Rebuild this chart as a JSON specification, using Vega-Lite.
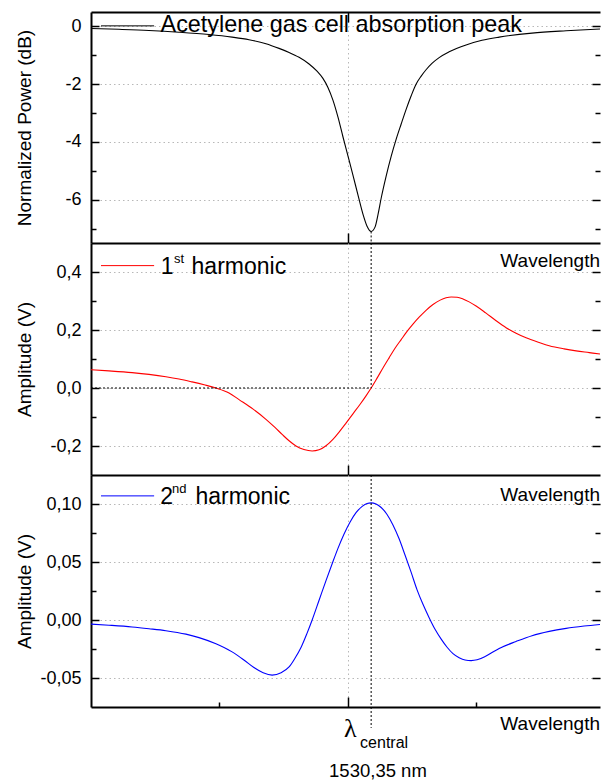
{
  "$schema": "https://vega.github.io/schema/vega-lite/v6.json",
  "padding": {"left": 14, "top": 11, "right": 0, "bottom": 0},
  "config": {
    "font": "Liberation Sans",
    "view": {"stroke": null},
    "axis": {
      "domainColor": "black", "domainWidth": 2,
      "tickColor": "black", "tickWidth": 1.5,
      "labelColor": "black", "labelFont": "Liberation Sans", "labelFontSize": 18,
      "titleFont": "Liberation Sans", "titleFontSize": 19, "titleFontWeight": "normal", "titleColor": "black",
      "gridColor": "#b8b8b8", "gridDash": [1.5, 3], "gridWidth": 1
    }
  },
  "datasets": {
    "absorption": [
      {"x": 0, "dB": -0.07}, {"x": 0.109, "dB": -0.1}, {"x": 0.226, "dB": -0.14}, {"x": 0.343, "dB": -0.2},
      {"x": 0.46, "dB": -0.28}, {"x": 0.55, "dB": -0.37}, {"x": 0.616, "dB": -0.46}, {"x": 0.682, "dB": -0.6},
      {"x": 0.733, "dB": -0.76}, {"x": 0.772, "dB": -0.9}, {"x": 0.811, "dB": -1.07}, {"x": 0.85, "dB": -1.3},
      {"x": 0.881, "dB": -1.55}, {"x": 0.904, "dB": -1.8}, {"x": 0.924, "dB": -2.12}, {"x": 0.943, "dB": -2.55},
      {"x": 0.963, "dB": -3.15}, {"x": 0.982, "dB": -3.82}, {"x": 1.002, "dB": -4.5}, {"x": 1.021, "dB": -5.15},
      {"x": 1.041, "dB": -5.85}, {"x": 1.06, "dB": -6.5}, {"x": 1.076, "dB": -6.92}, {"x": 1.092, "dB": -7.1},
      {"x": 1.107, "dB": -6.95}, {"x": 1.119, "dB": -6.5}, {"x": 1.131, "dB": -5.95}, {"x": 1.15, "dB": -5.2},
      {"x": 1.17, "dB": -4.5}, {"x": 1.189, "dB": -3.92}, {"x": 1.209, "dB": -3.38}, {"x": 1.228, "dB": -2.88},
      {"x": 1.248, "dB": -2.4}, {"x": 1.267, "dB": -2.0}, {"x": 1.287, "dB": -1.72}, {"x": 1.306, "dB": -1.5},
      {"x": 1.329, "dB": -1.28}, {"x": 1.357, "dB": -1.08}, {"x": 1.396, "dB": -0.88}, {"x": 1.462, "dB": -0.64},
      {"x": 1.524, "dB": -0.48}, {"x": 1.591, "dB": -0.37}, {"x": 1.719, "dB": -0.23}, {"x": 1.852, "dB": -0.15},
      {"x": 1.984, "dB": -0.09}
    ],
    "first": [
      {"x": 0, "amp": 0.063}, {"x": 0.07, "amp": 0.059}, {"x": 0.16, "amp": 0.053}, {"x": 0.226, "amp": 0.047},
      {"x": 0.292, "amp": 0.039}, {"x": 0.343, "amp": 0.031}, {"x": 0.394, "amp": 0.021}, {"x": 0.441, "amp": 0.011},
      {"x": 0.487, "amp": 0.0}, {"x": 0.538, "amp": -0.017}, {"x": 0.577, "amp": -0.04}, {"x": 0.632, "amp": -0.073},
      {"x": 0.682, "amp": -0.108}, {"x": 0.717, "amp": -0.136}, {"x": 0.745, "amp": -0.16}, {"x": 0.772, "amp": -0.182},
      {"x": 0.799, "amp": -0.2}, {"x": 0.83, "amp": -0.212}, {"x": 0.862, "amp": -0.217}, {"x": 0.889, "amp": -0.213},
      {"x": 0.916, "amp": -0.199}, {"x": 0.943, "amp": -0.177}, {"x": 0.967, "amp": -0.152}, {"x": 0.994, "amp": -0.121},
      {"x": 1.021, "amp": -0.089}, {"x": 1.049, "amp": -0.056}, {"x": 1.072, "amp": -0.027}, {"x": 1.092, "amp": 0.0},
      {"x": 1.115, "amp": 0.034}, {"x": 1.138, "amp": 0.069}, {"x": 1.162, "amp": 0.104}, {"x": 1.185, "amp": 0.137},
      {"x": 1.209, "amp": 0.167}, {"x": 1.232, "amp": 0.195}, {"x": 1.255, "amp": 0.22}, {"x": 1.279, "amp": 0.244},
      {"x": 1.306, "amp": 0.268}, {"x": 1.333, "amp": 0.288}, {"x": 1.361, "amp": 0.303}, {"x": 1.384, "amp": 0.311},
      {"x": 1.404, "amp": 0.314}, {"x": 1.427, "amp": 0.313}, {"x": 1.45, "amp": 0.307}, {"x": 1.474, "amp": 0.297},
      {"x": 1.501, "amp": 0.283}, {"x": 1.54, "amp": 0.258}, {"x": 1.579, "amp": 0.232}, {"x": 1.618, "amp": 0.208},
      {"x": 1.657, "amp": 0.189}, {"x": 1.696, "amp": 0.173}, {"x": 1.747, "amp": 0.157}, {"x": 1.786, "amp": 0.146},
      {"x": 1.844, "amp": 0.135}, {"x": 1.891, "amp": 0.128}, {"x": 1.942, "amp": 0.122}, {"x": 1.984, "amp": 0.117}
    ],
    "second": [
      {"x": 0, "amp": -0.0035}, {"x": 0.07, "amp": -0.0045}, {"x": 0.16, "amp": -0.006}, {"x": 0.226, "amp": -0.0075},
      {"x": 0.292, "amp": -0.0092}, {"x": 0.37, "amp": -0.0122}, {"x": 0.421, "amp": -0.0152}, {"x": 0.487, "amp": -0.0205},
      {"x": 0.55, "amp": -0.0275}, {"x": 0.596, "amp": -0.0345}, {"x": 0.635, "amp": -0.041}, {"x": 0.671, "amp": -0.0455},
      {"x": 0.706, "amp": -0.0475}, {"x": 0.741, "amp": -0.0455}, {"x": 0.772, "amp": -0.0405}, {"x": 0.795, "amp": -0.033},
      {"x": 0.819, "amp": -0.0235}, {"x": 0.842, "amp": -0.0115}, {"x": 0.862, "amp": 0.0}, {"x": 0.889, "amp": 0.017},
      {"x": 0.916, "amp": 0.034}, {"x": 0.94, "amp": 0.0485}, {"x": 0.963, "amp": 0.062}, {"x": 0.986, "amp": 0.074},
      {"x": 1.01, "amp": 0.0845}, {"x": 1.033, "amp": 0.0925}, {"x": 1.057, "amp": 0.098}, {"x": 1.076, "amp": 0.1005},
      {"x": 1.092, "amp": 0.101}, {"x": 1.111, "amp": 0.1}, {"x": 1.131, "amp": 0.097}, {"x": 1.154, "amp": 0.091},
      {"x": 1.177, "amp": 0.082}, {"x": 1.201, "amp": 0.07}, {"x": 1.224, "amp": 0.056}, {"x": 1.248, "amp": 0.041},
      {"x": 1.271, "amp": 0.026}, {"x": 1.294, "amp": 0.0135}, {"x": 1.318, "amp": 0.002}, {"x": 1.341, "amp": -0.008},
      {"x": 1.365, "amp": -0.0165}, {"x": 1.388, "amp": -0.0235}, {"x": 1.411, "amp": -0.029}, {"x": 1.435, "amp": -0.0325},
      {"x": 1.458, "amp": -0.0345}, {"x": 1.482, "amp": -0.035}, {"x": 1.505, "amp": -0.0343}, {"x": 1.54, "amp": -0.031},
      {"x": 1.591, "amp": -0.0245}, {"x": 1.657, "amp": -0.0185}, {"x": 1.719, "amp": -0.0135}, {"x": 1.786, "amp": -0.0098},
      {"x": 1.852, "amp": -0.0072}, {"x": 1.922, "amp": -0.0052}, {"x": 1.984, "amp": -0.0038}
    ]
  },
  "vconcat": [
    {
      "width": 509, "height": 231,
      "layer": [
        {
          "data": {"name": "absorption"},
          "mark": {"type": "line", "color": "black", "strokeWidth": 1.1, "interpolate": "monotone"},
          "encoding": {
            "x": {"field": "x", "type": "quantitative", "scale": {"domain": [0, 1.984], "nice": false, "zero": false},
                  "axis": {"orient": "bottom", "values": [1], "labels": false, "title": null, "tickSize": -10, "grid": true}},
            "y": {"field": "dB", "type": "quantitative", "scale": {"domain": [-7.5, 0.5], "nice": false, "zero": false},
                  "axis": {"orient": "left", "values": [-7, -6, -5, -4, -3, -2, -1, 0], "title": "Normalized Power (dB)",
                           "titleX": -61, "titleBaseline": "alphabetic", "labelPadding": 18,
                           "labelExpr": "datum.value % 2 == 0 ? (datum.value < 0 ? '-' : '') + abs(datum.value) : ''",
                           "tickSize": {"condition": {"test": "datum.value % 2 == 0", "value": -8}, "value": -5},
                           "grid": true, "gridOpacity": {"condition": {"test": "datum.value % 2 == 0", "value": 1}, "value": 0}}}
          }
        },
        {
          "data": {"values": [{}]},
          "mark": {"type": "rule", "color": "black", "strokeDash": [2, 2], "strokeWidth": 1},
          "encoding": {
            "x": {"datum": 1.092, "type": "quantitative", "scale": {"domain": [0, 1.984], "nice": false, "zero": false},
                  "axis": {"orient": "top", "values": [1], "labels": false, "title": null, "tickSize": -10, "grid": false}},
            "y": {"datum": -7.1, "type": "quantitative", "scale": {"domain": [-7.5, 0.5], "nice": false, "zero": false},
                  "axis": {"orient": "right", "values": [-7, -6, -5, -4, -3, -2, -1, 0], "labels": false, "title": null, "grid": false, "domain": false,
                           "tickSize": {"condition": {"test": "datum.value % 2 == 0", "value": -8}, "value": -5}}},
            "y2": {"datum": -7.5}
          }
        },
        {
          "data": {"values": [{}]},
          "mark": {"type": "rule", "color": "black", "strokeWidth": 1},
          "encoding": {
            "x": {"datum": 0.039, "type": "quantitative", "axis": null},
            "x2": {"datum": 0.246},
            "y": {"datum": 0.02, "type": "quantitative", "axis": null}
          }
        },
        {
          "data": {"values": [{}]},
          "mark": {"type": "text", "text": "Acetylene gas cell absorption peak", "align": "left", "baseline": "alphabetic",
                   "fontSize": 23.4, "font": "Liberation Sans", "color": "black"},
          "encoding": {
            "x": {"datum": 0.271, "type": "quantitative", "axis": null},
            "y": {"datum": -0.19, "type": "quantitative", "axis": null}
          }
        }
      ],
      "resolve": {"axis": {"x": "independent", "y": "independent"}}
    },
    {
      "width": 509, "height": 232,
      "layer": [
        {
          "data": {"name": "first"},
          "mark": {"type": "line", "color": "#ff0000", "strokeWidth": 1.1, "interpolate": "monotone"},
          "encoding": {
            "x": {"field": "x", "type": "quantitative", "scale": {"domain": [0, 1.984], "nice": false, "zero": false},
                  "axis": {"orient": "bottom", "values": [1], "labels": false, "title": null, "tickSize": -10, "grid": true}},
            "y": {"field": "amp", "type": "quantitative", "scale": {"domain": [-0.3, 0.5], "nice": false, "zero": false},
                  "axis": {"orient": "left", "values": [-0.2, -0.1, 0, 0.1, 0.2, 0.3, 0.4], "title": "Amplitude (V)",
                           "titleX": -61, "titleBaseline": "alphabetic", "labelPadding": 18,
                           "labelExpr": "abs(round(datum.value * 10)) % 2 == 0 ? (datum.value < 0 ? '-' : '') + replace(format(abs(datum.value), '.1f'), '.', ',') : ''",
                           "tickSize": {"condition": {"test": "abs(round(datum.value * 10)) % 2 == 0", "value": -8}, "value": -5},
                           "grid": true, "gridOpacity": {"condition": {"test": "abs(round(datum.value * 10)) % 2 == 0", "value": 1}, "value": 0}}}
          }
        },
        {
          "data": {"values": [{}]},
          "mark": {"type": "rule", "color": "black", "strokeDash": [2, 2], "strokeWidth": 1},
          "encoding": {
            "x": {"datum": 1.092, "type": "quantitative", "scale": {"domain": [0, 1.984], "nice": false, "zero": false}, "axis": null},
            "y": {"datum": 0.5, "type": "quantitative", "scale": {"domain": [-0.3, 0.5], "nice": false, "zero": false},
                  "axis": {"orient": "right", "values": [-0.2, -0.1, 0, 0.1, 0.2, 0.3, 0.4], "labels": false, "title": null, "grid": false, "domain": false,
                           "tickSize": {"condition": {"test": "abs(round(datum.value * 10)) % 2 == 0", "value": -8}, "value": -5}}},
            "y2": {"datum": 0}
          }
        },
        {
          "data": {"values": [{}]},
          "mark": {"type": "rule", "color": "black", "strokeDash": [2, 2], "strokeWidth": 1},
          "encoding": {
            "x": {"datum": 0, "type": "quantitative", "axis": null},
            "x2": {"datum": 1.092},
            "y": {"datum": 0, "type": "quantitative", "axis": null}
          }
        },
        {
          "data": {"values": [{}]},
          "mark": {"type": "rule", "color": "#ff0000", "strokeWidth": 1},
          "encoding": {
            "x": {"datum": 0.039, "type": "quantitative", "axis": null},
            "x2": {"datum": 0.246},
            "y": {"datum": 0.422, "type": "quantitative", "axis": null}
          }
        },
        {
          "data": {"values": [{}]},
          "mark": {"type": "text", "text": "1", "align": "left", "baseline": "alphabetic", "fontSize": 23, "color": "black"},
          "encoding": {"x": {"datum": 0.272, "type": "quantitative", "axis": null}, "y": {"datum": 0.393, "type": "quantitative", "axis": null}}
        },
        {
          "data": {"values": [{}]},
          "mark": {"type": "text", "text": "st", "align": "left", "baseline": "alphabetic", "fontSize": 13, "color": "black"},
          "encoding": {"x": {"datum": 0.324, "type": "quantitative", "axis": null}, "y": {"datum": 0.431, "type": "quantitative", "axis": null}}
        },
        {
          "data": {"values": [{}]},
          "mark": {"type": "text", "text": "harmonic", "align": "left", "baseline": "alphabetic", "fontSize": 23, "color": "black"},
          "encoding": {"x": {"datum": 0.392, "type": "quantitative", "axis": null}, "y": {"datum": 0.393, "type": "quantitative", "axis": null}}
        },
        {
          "data": {"values": [{}]},
          "mark": {"type": "text", "text": "Wavelength", "align": "right", "baseline": "alphabetic", "fontSize": 19, "color": "black"},
          "encoding": {"x": {"datum": 1.984, "type": "quantitative", "axis": null}, "y": {"datum": 0.418, "type": "quantitative", "axis": null}}
        }
      ],
      "resolve": {"axis": {"x": "independent", "y": "independent"}}
    },
    {
      "width": 509, "height": 232,
      "layer": [
        {
          "data": {"name": "second"},
          "mark": {"type": "line", "color": "#0000ff", "strokeWidth": 1.1, "interpolate": "monotone"},
          "encoding": {
            "x": {"field": "x", "type": "quantitative", "scale": {"domain": [0, 1.984], "nice": false, "zero": false},
                  "axis": {"orient": "bottom", "values": [0.5, 1, 1.5], "labels": false, "title": null, "grid": true,
                           "tickSize": {"condition": {"test": "datum.value == 1", "value": -10}, "value": -5},
                           "gridOpacity": {"condition": {"test": "datum.value == 1", "value": 1}, "value": 0}}},
            "y": {"field": "amp", "type": "quantitative", "scale": {"domain": [-0.075, 0.125], "nice": false, "zero": false},
                  "axis": {"orient": "left", "values": [-0.05, -0.025, 0, 0.025, 0.05, 0.075, 0.1], "title": "Amplitude (V)",
                           "titleX": -61, "titleBaseline": "alphabetic", "labelPadding": 18,
                           "labelExpr": "abs(round(datum.value * 40)) % 2 == 0 ? (datum.value < 0 ? '-' : '') + replace(format(abs(datum.value), '.2f'), '.', ',') : ''",
                           "tickSize": {"condition": {"test": "abs(round(datum.value * 40)) % 2 == 0", "value": -8}, "value": -5},
                           "grid": true, "gridOpacity": {"condition": {"test": "abs(round(datum.value * 40)) % 2 == 0", "value": 1}, "value": 0}}}
          }
        },
        {
          "data": {"values": [{}]},
          "mark": {"type": "rule", "color": "black", "strokeDash": [2, 2], "strokeWidth": 1},
          "encoding": {
            "x": {"datum": 1.092, "type": "quantitative", "scale": {"domain": [0, 1.984], "nice": false, "zero": false}, "axis": null},
            "y": {"datum": 0.125, "type": "quantitative", "scale": {"domain": [-0.075, 0.125], "nice": false, "zero": false},
                  "axis": {"orient": "right", "values": [-0.05, -0.025, 0, 0.025, 0.05, 0.075, 0.1], "labels": false, "title": null, "grid": false, "domain": false,
                           "tickSize": {"condition": {"test": "abs(round(datum.value * 40)) % 2 == 0", "value": -8}, "value": -5}}},
            "y2": {"datum": -0.093}
          }
        },
        {
          "data": {"values": [{}]},
          "mark": {"type": "rule", "color": "#0000ff", "strokeWidth": 1},
          "encoding": {
            "x": {"datum": 0.039, "type": "quantitative", "axis": null},
            "x2": {"datum": 0.246},
            "y": {"datum": 0.107, "type": "quantitative", "axis": null}
          }
        },
        {
          "data": {"values": [{}]},
          "mark": {"type": "text", "text": "2", "align": "left", "baseline": "alphabetic", "fontSize": 23, "color": "black"},
          "encoding": {"x": {"datum": 0.27, "type": "quantitative", "axis": null}, "y": {"datum": 0.1, "type": "quantitative", "axis": null}}
        },
        {
          "data": {"values": [{}]},
          "mark": {"type": "text", "text": "nd", "align": "left", "baseline": "alphabetic", "fontSize": 13, "color": "black"},
          "encoding": {"x": {"datum": 0.316, "type": "quantitative", "axis": null}, "y": {"datum": 0.1095, "type": "quantitative", "axis": null}}
        },
        {
          "data": {"values": [{}]},
          "mark": {"type": "text", "text": "harmonic", "align": "left", "baseline": "alphabetic", "fontSize": 23, "color": "black"},
          "encoding": {"x": {"datum": 0.407, "type": "quantitative", "axis": null}, "y": {"datum": 0.1, "type": "quantitative", "axis": null}}
        },
        {
          "data": {"values": [{}]},
          "mark": {"type": "text", "text": "Wavelength", "align": "right", "baseline": "alphabetic", "fontSize": 19, "color": "black"},
          "encoding": {"x": {"datum": 1.984, "type": "quantitative", "axis": null}, "y": {"datum": 0.1028, "type": "quantitative", "axis": null}}
        },
        {
          "data": {"values": [{}]},
          "mark": {"type": "text", "text": "Wavelength", "align": "right", "baseline": "alphabetic", "fontSize": 19, "color": "black"},
          "encoding": {"x": {"datum": 1.984, "type": "quantitative", "axis": null}, "y": {"datum": -0.0948, "type": "quantitative", "axis": null}}
        },
        {
          "data": {"values": [{}]},
          "mark": {"type": "text", "text": "λ", "align": "left", "baseline": "alphabetic", "fontSize": 26, "font": "Liberation Serif", "color": "black"},
          "encoding": {"x": {"datum": 0.986, "type": "quantitative", "axis": null}, "y": {"datum": -0.1009, "type": "quantitative", "axis": null}}
        },
        {
          "data": {"values": [{}]},
          "mark": {"type": "text", "text": "central", "align": "left", "baseline": "alphabetic", "fontSize": 16, "color": "black"},
          "encoding": {"x": {"datum": 1.049, "type": "quantitative", "axis": null}, "y": {"datum": -0.1103, "type": "quantitative", "axis": null}}
        },
        {
          "data": {"values": [{}]},
          "mark": {"type": "text", "text": "1530,35 nm", "align": "left", "baseline": "alphabetic", "fontSize": 18.5, "color": "black"},
          "encoding": {"x": {"datum": 0.928, "type": "quantitative", "axis": null}, "y": {"datum": -0.1353, "type": "quantitative", "axis": null}}
        }
      ],
      "resolve": {"axis": {"x": "independent", "y": "independent"}}
    }
  ],
  "spacing": 0,
  "bounds": "flush"
}
